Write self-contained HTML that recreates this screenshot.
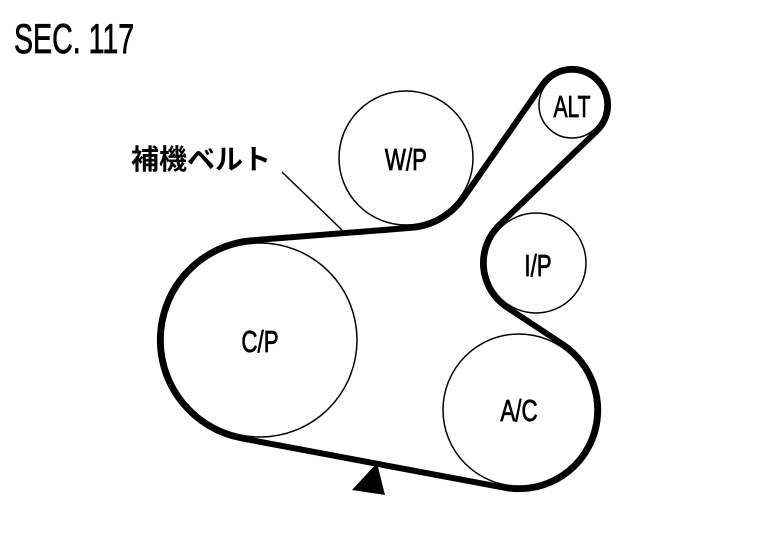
<!DOCTYPE html>
<html><head><meta charset="utf-8"><style>
html,body{margin:0;padding:0;background:#fff;width:768px;height:544px;overflow:hidden}
</style></head><body>
<svg width="768" height="544" viewBox="0 0 768 544" xmlns="http://www.w3.org/2000/svg">
<g fill="#fff" stroke="#000" stroke-width="1.5">
<circle cx="406" cy="158" r="67"/>
<circle cx="572" cy="105" r="33"/>
<circle cx="536" cy="263" r="50"/>
<circle cx="260" cy="340" r="97"/>
<circle cx="519" cy="410" r="76"/>
</g>
<path d="M252.2,240.3 L411.5,227.8 A70,70 0 0 0 463.4,198.0 L542.5,84.4 A36,36 0 1 1 596.9,131.0 L499.3,224.8 A53,53 0 0 0 506.7,307.2 L562.6,344.1 A79,79 0 0 1 504.4,487.7 L241.5,438.3 A100,100 0 0 1 252.2,240.3 Z" fill="none" stroke="#000" stroke-width="6" stroke-linejoin="round"/>
<line x1="282" y1="172" x2="342" y2="230" stroke="#000" stroke-width="1.5"/>
<polygon points="377,463 352,490 385,495" fill="#000"/>
<g font-family="Liberation Sans, sans-serif" fill="#000" stroke="#000" stroke-width="0.8" text-anchor="middle" font-size="31">
<text transform="translate(406,170) scale(0.72,1)">W/P</text>
<text transform="translate(572,117) scale(0.68,1)">ALT</text>
<text transform="translate(538,276) scale(0.72,1)">I/P</text>
<text transform="translate(260,352) scale(0.72,1)">C/P</text>
<text transform="translate(519,421) scale(0.72,1)">A/C</text>
</g>
<text transform="translate(14,53) scale(0.68,1)" font-family="Liberation Sans, sans-serif" font-size="42" fill="#000" stroke="#000" stroke-width="0.8">SEC. 117</text>
<text x="131" y="169" font-family="'Liberation Sans','Noto Sans CJK JP',sans-serif" font-weight="bold" font-size="28" fill="#000">補機ベルト</text>
</svg>
</body></html>
